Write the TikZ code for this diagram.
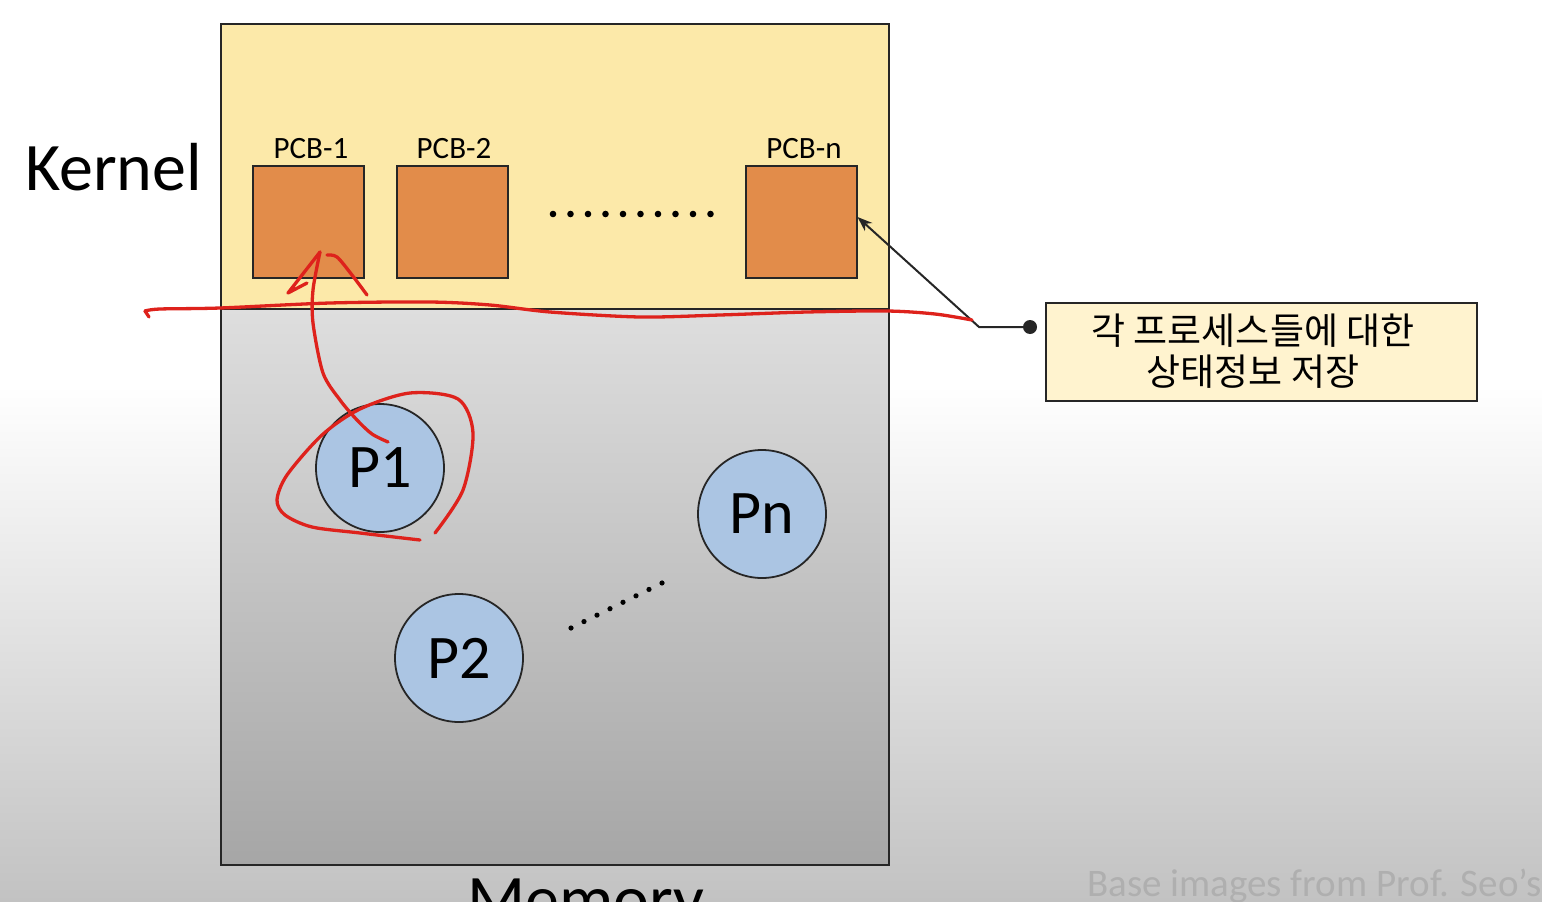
\documentclass[tikz,border=0pt]{standalone}
\usepackage{fontspec}
\setmainfont{Carlito}
\newfontfamily\kr{Noto Sans CJK KR}
\usetikzlibrary{arrows.meta,calc}
\definecolor{kyellow}{HTML}{FCE9A9}
\definecolor{pcborange}{HTML}{E28C4A}
\definecolor{pblue}{HTML}{ABC5E3}
\definecolor{callfill}{HTML}{FFF3CF}
\definecolor{edge}{HTML}{262626}
\definecolor{pen}{RGB}{222,34,28}
\definecolor{memtop}{HTML}{DEDEDE}
\definecolor{membot}{HTML}{A6A6A6}
\definecolor{bgbot}{HTML}{C2C2C2}
\definecolor{wm}{HTML}{AFAFAF}
\begin{document}
\begin{tikzpicture}[x=1pt,y=-1pt,
  pcbbox/.style={draw=edge, line width=2pt, fill=pcborange, minimum width=111pt, minimum height=112pt, inner sep=0pt},
  pcblabel/.style={font=\fontsize{31}{36}\selectfont, inner sep=0pt, anchor=base},
  proc/.style={circle, draw=edge, line width=1.8pt, fill=pblue, minimum size=128pt, inner sep=0pt, font=\fontsize{62}{70}\selectfont},
  redpen/.style={draw=pen, line width=3.3pt, line cap=round, line join=round},
  biglabel/.style={font=\fontsize{68}{80}\selectfont, inner sep=0pt}
]
\useasboundingbox (0,0) rectangle (1542,902);
\fill[white] (0,0) rectangle (1542,902);
\shade[top color=white, bottom color=bgbot] (0,385) rectangle (1542,902);

% memory
\node[fill=kyellow, minimum width=668pt, minimum height=285pt, inner sep=0pt] (kernel) at (555,166.5) {};
\node[top color=memtop, bottom color=membot, minimum width=668pt, minimum height=556pt, inner sep=0pt] (user) at (555,587) {};
\draw[edge, line width=2pt] (kernel.south west) -- (kernel.south east);
\draw[edge, line width=2.2pt] (kernel.north west) rectangle (user.south east);

\node[biglabel, anchor=base west] (kernellabel) at (25,190) {Kernel};
\node[biglabel, anchor=base] (memlabel) at (586,922) {Memory};

% PCBs
\node[pcbbox] (pcb1) at (308.5,222) {};
\node[pcbbox] (pcb2) at (452,222) {};
\node[pcbbox] (pcbn) at (801,222) {};
\node[pcblabel] (l1) at (311,158) {PCB-1};
\node[pcblabel] (l2) at (454,158) {PCB-2};
\node[pcblabel] (ln) at (804,158) {PCB-n};
\foreach \i in {0,...,9} \fill ({553+\i*17.5},214) circle (3.3pt);

% processes
\node[proc] (p1) at (380,468) {P1};
\node[proc] (p2) at (459,658) {P2};
\node[proc] (pn) at (762,514) {Pn};
\foreach \i in {0,...,7} \fill ({571+\i*13},{628-\i*6.43}) circle (2.6pt);

% callout
\node[draw=edge, line width=2pt, fill=callfill, minimum width=431pt, minimum height=98pt, inner sep=0pt] (call) at (1261.5,352) {};
\node[align=center, font=\kr\fontsize{37}{41}\selectfont, inner sep=0pt] (calltext) at (1253,351) {각 프로세스들에 대한\\상태정보 저장};
\coordinate (dot) at (1030,327);
\coordinate (bend) at (979,327);
\draw[edge, line width=2pt, -{Stealth[length=15pt,width=11pt]}] (dot) -- (bend) -- ($(pcbn.east)+(0,-5)$);
\fill[edge] (dot) circle (7pt);

% red annotations
\draw[redpen] (149,317) -- (145,311);
\draw[redpen] plot[smooth] coordinates {(145,311) (160,309) (220,308) (330,303) (430,302) (490,305) (550,312) (640,317) (720,315) (807,312) (887,311) (935,314) (972,320)};
\draw[redpen] plot[smooth] coordinates {(388,442) (372,434) (357,420) (340,400) (323,373) (313,323) (313,290) (320,252)};
\draw[redpen] (320,252) -- (288,293) -- (307,283);
\draw[redpen] plot[smooth] coordinates {(327,255) (337,257) (352,275) (367,295)};
\draw[redpen] plot[smooth] coordinates {(420,540) (360,533) (312,527) (285,515) (277,500) (287,475) (322,435) (360,409) (410,393) (458,399) (473,433) (463,490) (435,533)};

\node[anchor=base west, text=wm, font=\fontsize{39}{44}\selectfont, inner sep=0pt] (credit) at (1087,896) {Base images from Prof. Seo’s};
\end{tikzpicture}
\end{document}
